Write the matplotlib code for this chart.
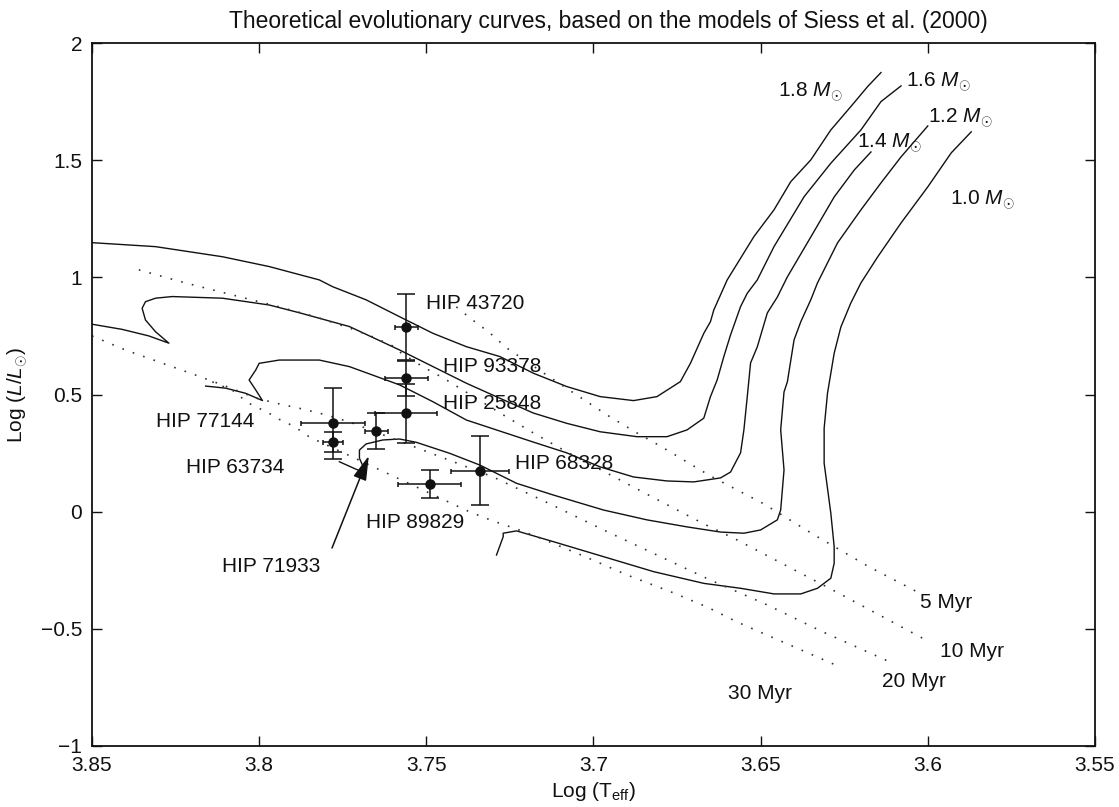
import numpy as np
import matplotlib.pyplot as plt

# tracks de Siess et al. (2000): log Teff / log L
t_18 = [3.850, 3.831, 3.811, 3.797, 3.782, 3.778, 3.768, 3.758, 3.748, 3.738,
        3.728, 3.718, 3.708, 3.698, 3.688, 3.681, 3.674, 3.671, 3.667, 3.665,
        3.664, 3.660, 3.652, 3.646, 3.641, 3.635, 3.629, 3.623, 3.618, 3.614]
l_18 = [1.148, 1.131, 1.088, 1.046, 0.989, 0.960, 0.904, 0.832, 0.761, 0.704,
        0.662, 0.591, 0.534, 0.491, 0.474, 0.491, 0.555, 0.633, 0.761, 0.811,
        0.861, 0.989, 1.174, 1.288, 1.408, 1.501, 1.629, 1.729, 1.814, 1.874]

t_16 = [3.850, 3.841, 3.833, 3.827, 3.831, 3.834, 3.835, 3.834, 3.831, 3.826,
        3.811, 3.797, 3.788, 3.773, 3.758, 3.748, 3.738, 3.728, 3.718, 3.708,
        3.698, 3.687, 3.678, 3.672, 3.667, 3.665, 3.663, 3.661, 3.659, 3.656,
        3.654, 3.651, 3.646, 3.637, 3.629, 3.620, 3.614, 3.608]
l_16 = [0.800, 0.778, 0.750, 0.719, 0.768, 0.818, 0.868, 0.896, 0.911, 0.918,
        0.911, 0.882, 0.849, 0.790, 0.690, 0.619, 0.548, 0.484, 0.421, 0.377,
        0.341, 0.320, 0.320, 0.349, 0.399, 0.491, 0.562, 0.662, 0.754, 0.875,
        0.932, 0.989, 1.131, 1.344, 1.487, 1.629, 1.750, 1.817]

t_14 = [3.816, 3.810, 3.804, 3.799, 3.801, 3.803, 3.801, 3.800, 3.794, 3.782,
        3.773, 3.758, 3.748, 3.738, 3.728, 3.718, 3.708, 3.698, 3.688, 3.678,
        3.670, 3.662, 3.659, 3.656, 3.655, 3.654, 3.653, 3.651, 3.648, 3.645,
        3.642, 3.635, 3.628, 3.622, 3.617]
l_14 = [0.536, 0.527, 0.505, 0.474, 0.519, 0.562, 0.605, 0.633, 0.647, 0.647,
        0.619, 0.541, 0.469, 0.391, 0.344, 0.297, 0.251, 0.191, 0.148, 0.131,
        0.127, 0.144, 0.169, 0.251, 0.349, 0.490, 0.635, 0.703, 0.848, 0.916,
        1.002, 1.172, 1.343, 1.458, 1.535]

t_12 = [3.776, 3.771, 3.768, 3.770, 3.770, 3.768, 3.763, 3.758, 3.753, 3.743,
        3.734, 3.723, 3.712, 3.697, 3.684, 3.672, 3.662, 3.655, 3.650, 3.645,
        3.644, 3.643, 3.644, 3.643, 3.642, 3.640, 3.638, 3.635, 3.633, 3.627,
        3.620, 3.614, 3.608, 3.600]
l_12 = [0.213, 0.181, 0.164, 0.228, 0.263, 0.289, 0.306, 0.310, 0.296, 0.249,
        0.199, 0.121, 0.071, 0.007, -0.035, -0.065, -0.087, -0.092, -0.078, -0.035,
        0.007, 0.178, 0.349, 0.511, 0.554, 0.733, 0.810, 0.904, 0.976, 1.147,
        1.288, 1.403, 1.514, 1.646]

t_10 = [3.729, 3.727, 3.727, 3.723, 3.712, 3.697, 3.682, 3.667, 3.656, 3.646,
        3.638, 3.633, 3.629, 3.628, 3.628, 3.629, 3.631, 3.631, 3.630, 3.628,
        3.626, 3.623, 3.620, 3.615, 3.608, 3.600, 3.593, 3.587]
l_10 = [-0.185, -0.107, -0.092, -0.082, -0.128, -0.192, -0.256, -0.306, -0.327, -0.351,
        -0.351, -0.327, -0.284, -0.220, -0.149, -0.007, 0.207, 0.356, 0.505, 0.676,
        0.788, 0.891, 0.976, 1.087, 1.232, 1.386, 1.531, 1.621]

# isocronas (punteadas)
t_5myr = [3.741, 3.737, 3.731, 3.726, 3.714, 3.705, 3.696, 3.687, 3.680, 3.665,
          3.649, 3.634, 3.618, 3.602]
l_5myr = [0.874, 0.827, 0.763, 0.699, 0.583, 0.498, 0.413, 0.336, 0.280, 0.152,
          0.033, -0.099, -0.232, -0.351]
t_10myr = [3.836, 3.822, 3.808, 3.794, 3.783, 3.773, 3.766, 3.760, 3.758, 3.751,
           3.745, 3.727, 3.718, 3.708, 3.696, 3.683, 3.667, 3.657, 3.629, 3.600]
l_10myr = [1.032, 0.976, 0.925, 0.874, 0.831, 0.784, 0.746, 0.707, 0.682, 0.618,
           0.571, 0.413, 0.336, 0.255, 0.165, 0.067, -0.052, -0.121, -0.330, -0.552]
t_20myr = [3.850, 3.840, 3.830, 3.820, 3.811, 3.801, 3.794, 3.787, 3.780, 3.773,
           3.730, 3.713, 3.697, 3.681, 3.665, 3.648, 3.632, 3.612]
l_20myr = [0.750, 0.690, 0.639, 0.588, 0.541, 0.485, 0.460, 0.438, 0.413, 0.383,
           0.148, 0.033, -0.078, -0.185, -0.292, -0.398, -0.509, -0.637]
t_30myr = [3.814, 3.807, 3.804, 3.800, 3.797, 3.794, 3.791, 3.788, 3.785, 3.737,
           3.730, 3.723, 3.716, 3.703, 3.690, 3.676, 3.666, 3.657, 3.627]
l_30myr = [0.554, 0.511, 0.469, 0.441, 0.420, 0.394, 0.374, 0.349, 0.319, -0.001,
           -0.040, -0.074, -0.112, -0.189, -0.270, -0.347, -0.407, -0.471, -0.658]

# estrellas observadas
nombres = ['HIP 43720', 'HIP 93378', 'HIP 25848', 'HIP 77144',
           'HIP 63734', 'HIP 71933', 'HIP 89829', 'HIP 68328']
log_t = [3.756, 3.756, 3.756, 3.778, 3.778, 3.765, 3.749, 3.734]
log_l = [0.787, 0.569, 0.420, 0.377, 0.298, 0.346, 0.118, 0.175]
err_t = [0.0034, 0.0064, 0.0092, 0.0096, 0.0030, 0.0034, 0.0095, 0.0087]
err_l = [0.140, 0.075, 0.126, 0.152, 0.042, 0.077, 0.060, 0.146]

# posiciones de las etiquetas (inicio del texto, linea base)
lab_t = [3.750, 3.745, 3.745, 3.831, 3.822, 3.811, 3.768, 3.7235]
lab_l = [0.864, 0.598, 0.437, 0.363, 0.166, -0.256, -0.071, 0.181]

masas = ['1.8', '1.6', '1.4', '1.2', '1.0']
masa_t = [3.6448, 3.6064, 3.6213, 3.6000, 3.5935]
masa_l = [1.771, 1.811, 1.551, 1.660, 1.309]

edades = ['5 Myr', '10 Myr', '20 Myr', '30 Myr']
edad_t = [3.6024, 3.5964, 3.6136, 3.6597]
edad_l = [-0.413, -0.619, -0.747, -0.799]

flecha_desde = (3.7782, -0.155)
flecha_hasta = (3.7672, 0.238)

x_ticks = [3.85, 3.8, 3.75, 3.7, 3.65, 3.6, 3.55]
y_ticks = [-1, -0.5, 0, 0.5, 1, 1.5, 2]

plt.rcParams['font.family'] = ['Liberation Sans', 'DejaVu Sans']
plt.rcParams['mathtext.fontset'] = 'custom'
plt.rcParams['mathtext.rm'] = 'Liberation Sans'
plt.rcParams['mathtext.it'] = 'Liberation Sans:italic'
fs = 15
negro = '#111111'

fig = plt.figure(figsize=(11.19, 8.07), dpi=100)
ax = fig.add_axes([0.0822, 0.0756, 0.8963, 0.8711])

for t, l in [(t_18, l_18), (t_16, l_16), (t_14, l_14), (t_12, l_12), (t_10, l_10)]:
  ax.plot(t, l, '-', color=negro, lw=1.0)

for t, l in [(t_5myr, l_5myr), (t_10myr, l_10myr), (t_20myr, l_20myr), (t_30myr, l_30myr)]:
  ax.plot(t, l, color='#333333', lw=1.2, linestyle=(0, (1, 5.6)))

# barras de error: caps anchos en vertical, chicos en horizontal
ax.errorbar(log_t, log_l, yerr=err_l, fmt='none', ecolor=negro, elinewidth=1.1,
            capsize=6.5, capthick=1.1)
ax.errorbar(log_t, log_l, xerr=err_t, fmt='none', ecolor=negro, elinewidth=1.1,
            capsize=1.8, capthick=1.1)
ax.plot(log_t, log_l, 'o', color=negro, ms=6.5, zorder=5)

for i in range(len(nombres)):
  ax.text(lab_t[i], lab_l[i], nombres[i], fontsize=fs, color=negro, ha='left', va='baseline')

for i in range(len(masas)):
  ax.text(masa_t[i], masa_l[i], masas[i] + r' $M_{\odot}$', fontsize=fs, color=negro,
          ha='left', va='baseline')

for i in range(len(edades)):
  ax.text(edad_t[i], edad_l[i], edades[i], fontsize=fs, color=negro, ha='left', va='baseline')

ax.annotate('', xy=flecha_hasta, xytext=flecha_desde,
            arrowprops=dict(arrowstyle='-|>,head_length=1.5,head_width=0.42',
                            color=negro, lw=1.1, shrinkA=0, shrinkB=0))

ax.set_xlim(3.85, 3.55)
ax.set_ylim(-1, 2)
ax.set_xticks(x_ticks)
ax.set_xticklabels(['%g' % v for v in x_ticks])
ax.set_yticks(y_ticks)
ax.set_yticklabels([('%g' % v).replace('-', '\u2212') for v in y_ticks])
ax.tick_params(direction='in', length=7, width=1.0, top=True, right=True,
               labelsize=fs, pad=7, colors=negro)
for s in ax.spines.values():
  s.set_linewidth(1.3)
  s.set_color(negro)

ax.set_xlabel(r'Log (T$_{\rm eff}$)', fontsize=fs, color=negro, labelpad=4)
ax.set_ylabel(r'Log ($L/L_{\odot}$)', fontsize=fs, color=negro, labelpad=8)
ax.text(0.515, 1.0 + 22 / 703.0, 'Theoretical evolutionary curves, based on the models of Siess et al. (2000)',
        transform=ax.transAxes, fontsize=16.5, color=negro, ha='center', va='center')

fig.savefig('out.png', dpi=100)
